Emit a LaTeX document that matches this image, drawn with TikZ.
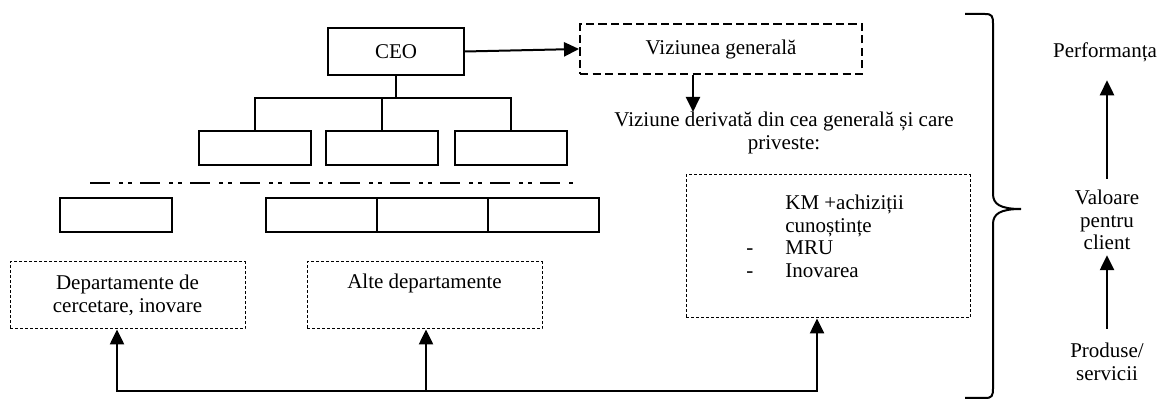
\documentclass[tikz,border=0pt]{standalone}
\usepackage{fontspec}
\setmainfont{Liberation Serif}
\usetikzlibrary{arrows.meta}

\begin{document}
\begin{tikzpicture}[x=0.6pt,y=-0.6pt,font=\fontsize{12.6}{13.5}\selectfont,
    >={Triangle[length=9pt,width=8.5pt]},
    orgbox/.style={draw,line width=1.2pt,minimum width=67.2pt,minimum height=20pt,inner sep=0pt},
    visionbox/.style={draw,line width=1.2pt,dash pattern=on 5pt off 2.5pt,minimum width=169.2pt,minimum height=30pt},
    deptbox/.style={draw,line width=0.6pt,dash pattern=on 2pt off 1pt,minimum width=141pt,minimum height=40.2pt,align=center,inner sep=0pt},
    link/.style={line width=1.2pt,->}]

\useasboundingbox (0,0) rectangle (1162,401);

% top of the chart
\node[orgbox,minimum width=81.6pt,minimum height=28.2pt] (ceo) at (396,51.5) {CEO};
\node[visionbox] (viz) at (721,49) {Viziunea generală};
\draw[link] (ceo.east) -- (viz.west);

\node[orgbox] (b1) at (255,148) {};
\node[orgbox] (b2) at (382,148) {};
\node[orgbox] (b3) at (511,148) {};
\coordinate (bus) at (396,98);
\draw[line width=1.2pt] (ceo.south) -- (bus) (b1.north) |- (bus) -| (b3.north)
    (bus -| b2.north) -- (b2.north);

\coordinate (dl) at (90,183);
\coordinate (dr) at (578,183);
\draw[line width=1.2pt,dash pattern=on 12pt off 5.5pt on 2pt off 3.5pt on 2pt off 5pt] (dl) -- (dr);

% lower level
\node[orgbox] (c1) at (115.5,215) {};
\node[orgbox,minimum width=66.6pt] (c2) at (321.5,215) {};
\node[orgbox,minimum width=66.6pt] (c3) at (432.5,215) {};
\node[orgbox,minimum width=66.6pt] (c4) at (543.5,215) {};

\node[deptbox] (rd) at (127.5,295.5) {Departamente de\\cercetare, inovare};
\node[deptbox] (other) at (424.5,295.5) {Alte departamente\\\strut};

% derived vision
\node[align=center,inner sep=0pt] (deriv) at (784,133) {Viziune derivată din cea generală și care\\priveste:};
\coordinate (vizfoot) at ([xshift=-16.8pt]viz.south);
\draw[link] (vizfoot) -- (vizfoot |- deriv.north);

\node[deptbox,minimum width=170.4pt,minimum height=85.8pt] (km) at (828,246.5) {};
\node[anchor=base west,inner sep=0pt] (kmtext) at (746,210) {\begin{tabular}[t]{@{}p{23.4pt}@{}l@{}}
    & KM +achiziții\\
    & cunoștințe\\
    - & MRU\\
    - & Inovarea
  \end{tabular}};

\coordinate (busl) at (117,391);
\coordinate (busm) at (426,391);
\coordinate (busr) at (817,391);
\draw[link,<->] (busl |- rd.south) -- (busl) -- (busr) -- (busr |- km.south);
\draw[link] (busm) -- (busm |- other.south);

% brace and right column
\draw[line width=1.2pt] (965,14) -- (985,14) .. controls (992,14) and (993,16) .. (993,24)
    -- (993,194) .. controls (993,204) and (1000,209) .. (1021,209)
    .. controls (1000,209) and (993,214) .. (993,224)
    -- (993,388) .. controls (993,396) and (992,398) .. (985,398) -- (965,398);

\node[inner sep=0pt] (perf) at (1105,52) {Performanța};
\node[align=center,inner sep=0pt] (value) at (1107,220) {Valoare\\pentru\\client};
\node[align=center,inner sep=0pt] (prod) at (1107,362) {Produse/\\servicii};
\draw[link,shorten <=6.6pt,shorten >=11pt] (value.north) -- (value.north |- perf.south);
\draw[link,shorten <=8.7pt,shorten >=3pt] (prod.north) -- (value.south);
\end{tikzpicture}
\end{document}
